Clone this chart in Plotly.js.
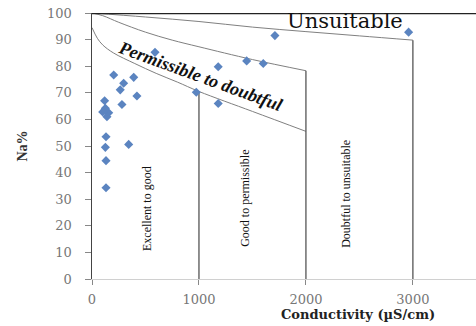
<!DOCTYPE html>
<html><head><meta charset="utf-8">
<script src="https://cdn.plot.ly/plotly-3.0.1.min.js"></script>
<style>html,body{margin:0;padding:0;background:#fff}#chart{width:476px;height:326px}</style>
</head><body><div id="chart"></div>
<script>
// Sample points: conductivity (µS/cm) and Na%
const sampleEC = [203, 390, 296, 264, 420, 118, 280, 125, 156, 140, 120, 100, 131, 125, 343, 131, 131, 589, 1180, 1710, 1446, 1601, 975, 1180, 2960];
const sampleNa = [76.7, 75.8, 73.6, 71.1, 68.8, 67.0, 65.6, 64.2, 62.5, 61.0, 63.5, 62.8, 53.5, 49.5, 50.6, 44.5, 34.3, 85.2, 79.8, 91.5, 82.0, 81.0, 70.2, 66.0, 92.8];

// Wilcox class boundary curves
const curveA_x = [0, 500, 1000, 1500, 2000, 2500, 3000];
const curveA_y = [100, 98.5, 96.8, 94.7, 93.0, 91.4, 89.8];
const curveB_x = [0, 100, 250, 500, 750, 1000, 1500, 2000];
const curveB_y = [100, 99, 96.5, 92.8, 89.8, 87.3, 82.5, 78.3];
const curveC_x = [0, 50, 100, 200, 400, 600, 800, 1000, 1500, 2000];
const curveC_y = [94.5, 90.5, 88, 85, 81, 77.3, 74, 70.5, 63, 55.5];
// Vertical class dividers
const dividerEC = [1000, 2000, 3000];
const dividerTop = [70.5, 78.3, 89.8];

const xTicks = [0, 1000, 2000, 3000];
const yTicks = [0, 10, 20, 30, 40, 50, 60, 70, 80, 90, 100];

const traces = [];
const curveStyle = {color: '#808080', width: 1};
traces.push({x: curveA_x, y: curveA_y, mode: 'lines', line: {...curveStyle, shape: 'spline'}, hoverinfo: 'skip'});
traces.push({x: curveB_x, y: curveB_y, mode: 'lines', line: {...curveStyle, shape: 'spline'}, hoverinfo: 'skip'});
traces.push({x: curveC_x, y: curveC_y, mode: 'lines', line: {...curveStyle, shape: 'spline'}, hoverinfo: 'skip'});
dividerEC.forEach((ec, i) => {
  traces.push({x: [ec, ec], y: [0, dividerTop[i]], mode: 'lines', line: {color: '#555', width: 1.3}, hoverinfo: 'skip'});
});
traces.push({x: sampleEC, y: sampleNa, mode: 'markers', marker: {symbol: 'diamond', size: 7, color: '#5b84c0'}});

const serif = 'Liberation Serif, Times New Roman, serif';
const layout = {
  width: 476, height: 326,
  margin: {l: 92, r: 0, t: 13, b: 47},
  paper_bgcolor: '#fff', plot_bgcolor: '#fff',
  showlegend: false,
  xaxis: {
    range: [0, 3590], tickvals: xTicks, ticktext: xTicks.map(String),
    showgrid: false, zeroline: false, showline: true, linecolor: '#d0d0d0', linewidth: 1,
    ticks: 'outside', ticklen: 5, tickcolor: '#888', ticklabelstandoff: 3,
    tickfont: {family: 'DejaVu Serif', size: 13, color: '#777'}
  },
  yaxis: {
    range: [0, 100], tickvals: yTicks, ticktext: yTicks.map(String),
    showgrid: false, zeroline: false, showline: true, linecolor: '#444', linewidth: 1.5,
    ticks: 'outside', ticklen: 6, tickcolor: '#888', ticklabelstandoff: 10,
    tickfont: {family: 'DejaVu Serif', size: 13, color: '#777'},
    title: {text: '<b>Na%</b>', font: {family: serif, size: 14, color: '#333'}, standoff: 16}
  },
  shapes: [
    {type: 'line', xref: 'paper', yref: 'y', x0: 0, x1: 1, y0: 100, y1: 100, line: {color: '#222', width: 2.5}}
  ],
  annotations: [
    {xref: 'paper', yref: 'paper', x: 0.693, y: -0.132, xanchor: 'center', yanchor: 'middle', text: '<b>Conductivity (µS/cm)</b>', showarrow: false, font: {family: 'DejaVu Serif', size: 13, color: '#222'}},
    {x: 2364, y: 97, text: 'Unsuitable', showarrow: false, font: {family: 'DejaVu Serif', size: 21, color: '#111'}},
    {x: 1010, y: 76.5, text: '<b><i>Permissible to doubtful</i></b>', textangle: 20, showarrow: false, font: {family: serif, size: 18, color: '#111'}},
    {x: 514, y: 26.7, text: 'Excellent to good', textangle: -90, showarrow: false, font: {family: serif, size: 12, color: '#111'}},
    {x: 1430, y: 30.5, text: 'Good to permissible', textangle: -90, showarrow: false, font: {family: serif, size: 12, color: '#111'}},
    {x: 2374, y: 32, text: 'Doubtful to unsuitable', textangle: -90, showarrow: false, font: {family: serif, size: 12, color: '#111'}}
  ]
};
Plotly.newPlot('chart', traces, layout, {displayModeBar: false, staticPlot: true});
</script></body></html>
